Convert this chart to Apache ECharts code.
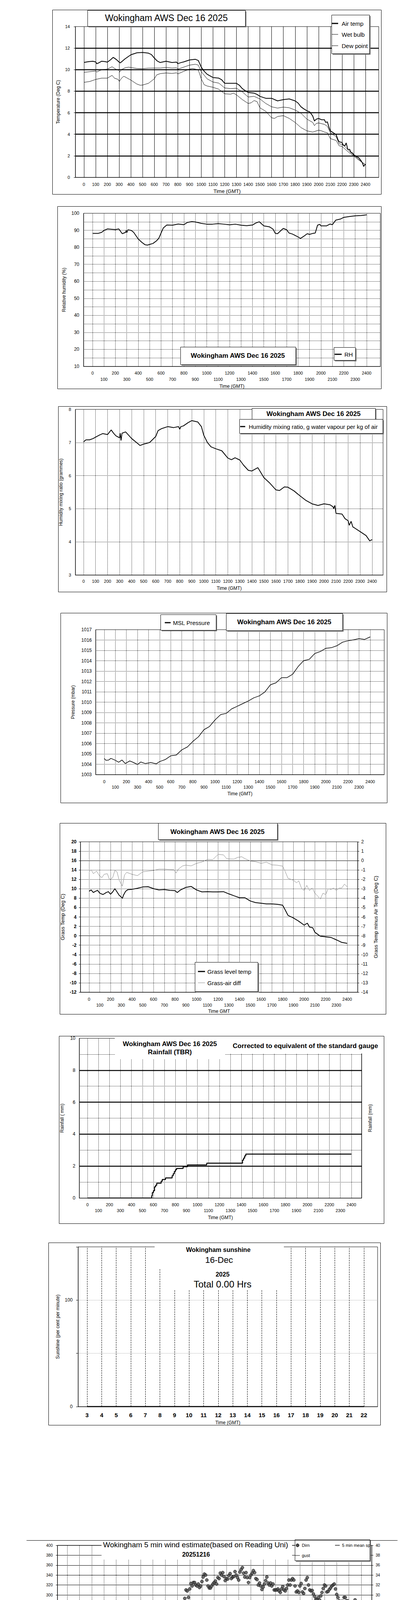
<!DOCTYPE html>
<html><head><meta charset="utf-8">
<script src="https://cdn.jsdelivr.net/npm/echarts@6/dist/echarts.min.js"></script>
<style>html,body{margin:0;padding:0;background:#fff;}#c{width:1050px;height:5085px;}</style>
</head><body><div id="c"></div>
<script>
// ---------- tick labels ----------
const hourTicks = [0,100,200,300,400,500,600,700,800,900,1000,1100,1200,1300,1400,1500,1600,1700,1800,1900,2000,2100,2200,2300,2400];
const evenTicks = [0,200,400,600,800,1000,1200,1400,1600,1800,2000,2200,2400];
const oddTicks = [100,300,500,700,900,1100,1300,1500,1700,1900,2100,2300];
const sunHours = [3,4,5,6,7,8,9,10,11,12,13,14,15,16,17,18,19,20,21,22];

// ---------- chart 1: temperatures [time, degC] ----------
const airTemp = [[0,10.66],[25,10.72],[50,10.75],[75,10.78],[100,10.72],[110,10.55],[125,10.62],[150,10.78],[175,10.75],[200,10.7],[225,10.9],[250,11.14],[275,10.95],[300,10.7],[310,10.63],[350,11.0],[400,11.38],[450,11.56],[500,11.6],[550,11.53],[575,11.4],[600,11.08],[625,10.8],[650,10.66],[700,10.78],[750,10.66],[790,10.7],[800,10.55],[825,10.65],[850,10.72],[900,10.9],[950,10.96],[975,10.85],[1000,10.23],[1025,9.85],[1050,9.57],[1100,9.27],[1150,9.21],[1175,9.05],[1200,8.73],[1250,8.73],[1300,8.73],[1325,8.55],[1350,8.24],[1375,8.05],[1400,7.88],[1450,7.82],[1475,7.7],[1500,7.52],[1550,7.34],[1600,7.34],[1650,7.1],[1700,7.22],[1750,7.28],[1800,7.1],[1825,6.9],[1850,6.55],[1875,6.35],[1900,6.19],[1925,6.07],[1950,5.7],[1965,5.23],[1980,5.4],[2000,5.47],[2025,5.35],[2050,5.35],[2060,5.1],[2075,5.15],[2090,4.6],[2100,4.32],[2125,4.14],[2150,3.96],[2165,3.5],[2175,3.3],[2200,3.24],[2210,3.0],[2225,2.93],[2235,3.2],[2250,2.57],[2265,2.6],[2275,2.33],[2290,2.25],[2300,2.09],[2315,2.0],[2325,1.9],[2340,1.85],[2350,1.72],[2365,1.5],[2375,1.3],[2385,1.0],[2390,1.12],[2400,1.2]];
const wetBulb = [[0,9.75],[50,9.81],[100,9.87],[110,9.78],[150,9.99],[200,10.05],[240,10.27],[270,10.05],[300,9.93],[305,9.78],[320,10.0],[350,10.17],[380,10.23],[400,10.2],[450,10.11],[500,10.09],[550,10.14],[600,10.15],[650,10.15],[700,10.2],[750,10.15],[790,10.17],[800,10.05],[850,10.23],[900,10.42],[950,10.5],[975,10.42],[1000,9.81],[1050,9.15],[1100,8.85],[1150,8.75],[1200,8.3],[1250,8.24],[1300,8.27],[1350,7.94],[1400,7.46],[1450,7.52],[1500,7.28],[1550,6.86],[1600,6.55],[1650,6.43],[1700,6.52],[1750,6.46],[1800,6.25],[1850,5.95],[1900,5.41],[1950,5.1],[1965,4.8],[1980,5.0],[2000,5.05],[2050,4.92],[2075,4.74],[2100,4.14],[2150,3.78],[2175,3.11],[2200,3.06],[2225,2.85],[2250,2.57],[2275,2.3],[2300,2.03],[2325,1.85],[2350,1.6],[2375,1.35],[2400,1.18]];
const dewPoint = [[0,8.82],[50,8.9],[100,9.09],[150,9.21],[200,9.21],[240,9.47],[260,9.21],[290,9.1],[302,8.9],[320,9.2],[340,9.39],[400,9.03],[450,8.67],[480,8.55],[500,8.57],[550,8.73],[600,9.15],[620,9.51],[650,9.63],[700,9.69],[750,9.65],[790,9.7],[800,9.6],[850,9.84],[900,10.05],[925,10.11],[950,10.05],[975,9.96],[1000,9.15],[1025,8.6],[1050,8.48],[1100,8.36],[1150,8.18],[1200,7.76],[1250,7.72],[1275,7.82],[1300,7.66],[1350,7.22],[1400,6.86],[1425,6.92],[1450,7.13],[1475,7.04],[1500,6.46],[1550,6.13],[1600,5.53],[1625,5.47],[1650,5.65],[1700,5.73],[1750,5.47],[1800,5.1],[1850,4.62],[1900,4.32],[1950,4.2],[2000,4.38],[2025,4.32],[2050,4.2],[2075,4.14],[2100,3.6],[2150,3.42],[2175,2.93],[2200,2.87],[2250,2.39],[2300,1.97],[2350,1.55],[2400,1.18]];

// ---------- chart 2: relative humidity [time, %] ----------
const relHum = [[0,88.2],[50,88.2],[80,88.8],[100,89.9],[130,90.8],[200,90.4],[230,90.8],[260,88.0],[290,88.8],[295,90.0],[300,88.6],[310,90.3],[340,89.9],[360,88.8],[400,84.9],[430,83.0],[460,81.5],[480,81.3],[500,81.7],[530,82.3],[560,83.8],[580,85.3],[600,88.4],[620,91.4],[650,93.1],[700,93.0],[750,93.7],[800,93.3],[830,94.6],[870,95.1],[900,94.9],[950,94.1],[1000,93.6],[1050,93.6],[1100,93.9],[1150,93.6],[1200,93.2],[1250,93.6],[1300,93.0],[1350,92.7],[1400,93.1],[1430,94.3],[1460,95.0],[1500,92.6],[1550,92.0],[1580,90.7],[1600,88.2],[1620,88.0],[1650,89.9],[1670,91.1],[1700,90.3],[1720,88.4],[1750,87.8],[1800,86.1],[1820,85.2],[1850,86.5],[1880,88.0],[1900,87.6],[1930,88.2],[1950,88.4],[1970,93.0],[1990,93.5],[2000,92.6],[2050,92.6],[2080,93.7],[2100,93.3],[2130,96.0],[2170,96.6],[2200,97.6],[2250,98.1],[2300,98.5],[2350,98.7],[2400,99.1]];

// ---------- chart 3: mixing ratio [time, g/kg] ----------
const mixRatio = [[0,7.02],[20,7.08],[50,7.08],[80,7.12],[100,7.16],[130,7.22],[160,7.27],[200,7.24],[230,7.38],[250,7.28],[270,7.2],[290,7.16],[300,7.14],[305,7.28],[312,7.06],[320,7.28],[350,7.32],[400,7.12],[450,6.97],[470,6.91],[500,6.95],[550,7.0],[600,7.18],[620,7.36],[650,7.42],[700,7.48],[750,7.45],[790,7.48],[800,7.4],[810,7.48],[830,7.5],[870,7.6],[900,7.66],[950,7.62],[980,7.48],[1000,7.22],[1030,7.0],[1060,6.87],[1100,6.81],[1150,6.75],[1200,6.53],[1230,6.48],[1260,6.54],[1300,6.47],[1330,6.32],[1370,6.16],[1400,6.14],[1450,6.24],[1500,5.94],[1550,5.77],[1600,5.57],[1630,5.55],[1670,5.66],[1700,5.65],[1750,5.54],[1800,5.39],[1850,5.25],[1900,5.15],[1950,5.1],[2000,5.15],[2050,5.12],[2075,5.06],[2080,5.0],[2090,5.1],[2100,4.86],[2150,4.84],[2175,4.7],[2200,4.64],[2210,4.5],[2225,4.62],[2240,4.45],[2250,4.43],[2300,4.31],[2350,4.19],[2380,4.03],[2400,4.07]];

// ---------- chart 4: MSL pressure [time, mbar] ----------
const mslPressure = [[0,1004.57],[15,1004.38],[40,1004.41],[60,1004.57],[100,1004.38],[130,1004.19],[160,1004.41],[190,1004.07],[230,1004.32],[260,1004.19],[300,1003.98],[330,1004.22],[370,1004.07],[420,1004.17],[470,1004.04],[500,1004.26],[550,1004.45],[600,1004.82],[650,1004.89],[700,1005.39],[750,1005.67],[800,1006.21],[850,1006.65],[900,1007.34],[950,1007.65],[1000,1008.28],[1050,1008.79],[1100,1008.91],[1150,1009.35],[1200,1009.6],[1250,1009.86],[1300,1010.11],[1350,1010.42],[1400,1010.61],[1450,1010.99],[1500,1011.68],[1550,1011.87],[1600,1012.37],[1650,1012.37],[1700,1012.69],[1750,1013.44],[1800,1014.01],[1850,1014.13],[1900,1014.7],[1950,1014.89],[2000,1015.2],[2050,1015.26],[2100,1015.45],[2150,1015.79],[2200,1015.93],[2250,1016.02],[2300,1016.14],[2350,1016.06],[2400,1016.3]];

// ---------- chart 5: grass temperature [time, degC] ----------
const grassTemp = [[0,9.47],[20,9.75],[40,9.2],[60,9.47],[80,9.67],[100,9.06],[130,8.78],[160,9.2],[180,9.39],[200,8.84],[220,9.34],[240,10.03],[260,9.34],[280,8.64],[300,8.23],[310,7.95],[320,8.64],[340,9.47],[360,9.81],[400,9.89],[450,10.11],[500,10.39],[550,10.44],[600,10.03],[650,9.75],[700,9.83],[750,9.67],[800,9.61],[820,9.2],[850,9.75],[900,10.3],[950,10.5],[1000,9.75],[1050,9.34],[1100,9.39],[1150,9.34],[1200,9.34],[1250,9.39],[1300,8.92],[1350,8.5],[1400,8.09],[1450,8.09],[1500,7.4],[1550,7.06],[1600,6.93],[1650,6.79],[1700,6.79],[1750,6.7],[1800,6.51],[1825,5.46],[1850,4.35],[1900,3.8],[1950,3.1],[2000,2.27],[2030,2.69],[2050,1.86],[2080,1.72],[2100,0.75],[2150,-0.08],[2200,-0.22],[2250,-0.36],[2300,-0.86],[2350,-1.41],[2400,-1.61]];
const grassAirDiff = [[0,-1.19],[20,-0.98],[40,-1.39],[70,-1.12],[100,-1.67],[120,-1.81],[140,-1.46],[170,-1.39],[190,-2.02],[220,-1.81],[240,-1.05],[260,-1.19],[280,-2.09],[300,-2.5],[310,-2.71],[330,-1.53],[350,-1.25],[400,-1.46],[450,-1.6],[500,-1.19],[550,-1.12],[600,-1.05],[650,-0.91],[700,-0.91],[750,-0.95],[790,-0.98],[810,-1.32],[830,-0.91],[870,-0.56],[900,-0.49],[950,-0.56],[1000,-0.29],[1050,-0.15],[1100,0.13],[1150,0.1],[1200,0.66],[1250,0.61],[1280,0.2],[1300,0.17],[1350,0.16],[1380,0.34],[1420,0.41],[1450,0.2],[1500,-0.04],[1550,-0.12],[1600,-0.29],[1650,-0.17],[1700,-0.45],[1750,-0.49],[1800,-0.59],[1825,-1.19],[1850,-1.88],[1900,-2.09],[1930,-2.36],[1950,-2.16],[1975,-2.92],[2000,-3.19],[2025,-2.64],[2050,-3.19],[2075,-2.92],[2100,-3.47],[2125,-3.75],[2150,-4.09],[2175,-3.47],[2200,-3.61],[2225,-2.99],[2250,-3.06],[2275,-2.92],[2300,-3.19],[2325,-2.92],[2350,-2.92],[2375,-2.5],[2400,-2.78]];

// ---------- chart 6: cumulative rainfall [time, mm] ----------
const rainfall = [[0,0],[580,0],[585,0.15],[590,0.34],[600,0.46],[610,0.7],[620,0.8],[630,0.93],[670,1.05],[680,1.16],[710,1.26],[770,1.4],[780,1.52],[790,1.66],[800,1.77],[810,1.85],[870,1.96],[910,2.07],[1085,2.18],[1410,2.38],[1420,2.5],[1430,2.64],[1440,2.75],[2400,2.75]];

// ---------- chart 7: sunshine (% per minute) at each hour ----------
const sunshinePct = [0,0,0,0,0,0,0,0,0,0,0,0,0,0,0,0,0,0,0,0];

// ---------- chart 8: wind, one value every 10 time units (0..2400) ----------
const windDirn = [137,136,134,130,138,141,133,130,134,132, 128,126,130,135,130,120,118,119,110,104, 108,112,118,119,117,125,130,133,130,125, 122,126,133,134,125,122,131,139,136,138, 156,165,162,174,180,174,167,158,152,160, 163,171,180,183,182,176,170,155,148,150, 131,120,120,126,135,140,130,151,165,158, 141,152,156,162,150,130,125,144,167,174, 181,177,172,163,166,155,166,151,150,134, 158,178,227,264,277,285,293,310,308,295, 312,323,318,325,325,320,318,322,315,318, 327,336,342,340,330,318,314,314,318,322, 325,328,322,335,333,344,340,345,337,329, 333,332,339,343,333,336,337,347,340,335, 330,346,351,355,344,336,345,335,325,335, 340,344,349,345,333,331,320,324,318,311, 316,322,329,336,324,320,324,318,322,310, 310,310,312,308,305,312,317,310,308,313, 320,330,320,330,333,330,318,306,308,305, 318,323,306,303,313,330,335,320,310,308, 309,302,297,291,291,295,290,298,305,313, 320,318,306,307,311,314,318,320,322,312, 301,295,288,285,287,287,295,295,288,288, 285,275,275,278,271,290,282,278,270,274, 280];
const windGust = [4.2,4.2,5.0,4.5,2.8,4.8,3.8,4.2,4.8,4.5, 4.5,4.8,4.0,5.2,5.5,4.5,4.8,5.0,4.5,5.5, 4.2,4.8,5.2,4.5,5.8,6.0,5.0,4.2,5.5,4.5, 4.0,4.5,6.0,5.5,6.2,5.0,7.0,8.0,7.5,8.2, 6.5,11.0,9.2,7.8,8.5,7.2,8.0,8.8,8.5,5.0, 8.0,7.0,4.2,5.5,4.5,5.0,4.0,4.5,3.8,4.2, 2.8,4.0,3.5,4.2,3.8,5.5,4.0,4.8,3.0,4.2, 3.5,5.5,4.0,5.0,3.0,4.5,3.8,5.0,7.0,5.5, 4.5,4.0,5.0,3.8,4.2,5.5,3.5,4.0,4.2,5.8, 4.8,8.5,7.5,9.5,7.8,8.2,8.8,7.0,7.8,6.5, 9.0,7.5,9.5,10.0,10.5,11.2,8.0,8.5,7.2,6.8, 8.0,9.5,11.0,8.8,10.0,8.5,10.5,9.5,10.8,8.2, 9.8,9.0,8.5,10.0,8.0,13.2,8.5,10.0,9.2,10.5, 9.0,9.5,8.5,9.8,7.5,9.2,8.0,10.0,8.5,10.8, 7.5,10.5,8.0,11.2,7.0,9.8,8.8,6.5,9.0,7.2, 9.5,6.0,8.8,5.5,8.5,6.0,7.5,4.5,7.2,5.5, 6.8,5.0,7.2,5.8,6.5,4.8,7.0,5.5,7.2,4.5, 8.0,8.5,7.8,8.5,7.2,9.2,6.5,8.2,6.2,8.8, 7.0,8.0,3.5,4.5,4.0,4.2,3.8,4.5,3.8,5.0, 4.0,3.5,4.5,4.8,3.8,4.2,5.5,4.5,3.8,4.2, 6.0,4.0,3.5,4.5,3.8,4.2,4.0,4.5,3.0,5.0, 6.0,4.5,3.8,4.2,3.5,4.5,4.0,3.8,4.0,3.5, 5.0,3.8,4.5,4.0,3.5,3.0,2.5,2.0,2.2,1.5, 1.2,2.0,1.5,1.8,1.0,1.8,1.5,2.5,3.2,3.8, 4.0];
const windMean = [2.0,2.0,2.5,2.8,2.2,2.0,2.5,3.0,2.7,2.5, 2.8,3.0,2.8,2.5,2.3,2.7,3.0,3.0,3.2,3.7, 3.8,3.8,4.0,4.0,3.8,3.5,3.3,3.0,3.0,3.0, 3.0,3.0,3.2,3.5,3.7,3.8,4.0,4.2,4.0,4.2, 4.0,4.5,5.8,5.0,4.5,4.0,4.2,3.5,3.0,4.0, 5.2,4.5,4.0,3.8,3.0,2.5,2.0,2.2,2.2,1.8, 2.0,1.8,2.0,1.5,2.0,1.8,1.5,2.0,2.2,1.8, 1.5,1.8,2.2,2.0,2.0,1.8,2.2,2.8,3.3,3.5, 2.5,2.2,2.8,2.2,2.0,2.2,1.8,2.0,1.8,1.5, 2.0,3.5,4.5,5.5,6.0,5.5,5.0,4.5,4.8,5.2, 4.2,5.5,5.0,5.5,4.8,6.2,5.0,5.2,4.5,5.0, 4.8,5.5,6.5,6.2,5.5,5.8,5.0,4.8,5.8,5.5, 5.0,5.8,5.2,5.5,4.8,4.5,5.5,6.0,5.5,5.2, 5.5,5.0,5.2,4.8,5.0,4.8,4.5,5.0,4.5,4.2, 4.5,5.2,5.0,6.0,4.8,4.2,4.8,3.8,4.5,4.0, 4.8,4.2,5.5,4.5,4.0,3.5,4.0,3.0,3.5,3.8, 3.5,3.8,3.5,3.6,3.2,3.6,3.5,3.6,3.2,3.0, 3.8,4.5,4.8,4.2,5.0,5.5,5.8,4.8,4.5,3.5, 4.0,4.8,3.0,2.5,2.2,2.0,2.2,2.5,2.2,2.5, 2.8,2.5,2.2,1.8,2.2,2.5,2.2,2.5,2.8,2.5, 3.2,2.8,2.2,2.0,2.5,2.2,2.0,2.2,2.0,1.5, 2.5,2.2,2.5,2.2,2.5,2.8,2.5,2.2,2.8,3.0, 2.8,2.8,2.5,2.5,2.2,2.2,2.0,1.5,1.2,0.8, 0.5,0.5,0.8,1.2,1.0,0.8,1.2,1.5,2.2,2.8, 3.0];

// ================= build =================
const FONT = '"Liberation Sans", Arial, Helvetica, sans-serif';
const plain = v => String(v);
const option = {
  animation: false, backgroundColor: '#fff',
  textStyle: { fontFamily: FONT, color: '#000' },
  grid: [], xAxis: [], yAxis: [], series: [], graphic: []
};
const G = option.graphic;
function fnt(size, bold) { return (bold ? 'bold ' : '') + size + 'px ' + FONT; }
function frame(x1, y1, x2, y2) {
  G.push({ type: 'rect', z: 1, silent: true, shape: { x: x1 + 0.5, y: y1 + 0.5, width: x2 - x1, height: y2 - y1 }, style: { fill: 'none', stroke: '#000', lineWidth: 1 } });
}
function box(x1, y1, x2, y2) {
  G.push({ type: 'rect', z: 50, silent: true, shape: { x: x1 + 3, y: y1 + 3, width: x2 - x1, height: y2 - y1 }, style: { fill: '#7a7a7a' } });
  G.push({ type: 'rect', z: 51, silent: true, shape: { x: x1 + 0.5, y: y1 + 0.5, width: x2 - x1, height: y2 - y1 }, style: { fill: '#fff', stroke: '#000', lineWidth: 1 } });
}
function whiteRect(x1, y1, x2, y2) {
  G.push({ type: 'rect', z: 49, silent: true, shape: { x: x1, y: y1, width: x2 - x1, height: y2 - y1 }, style: { fill: '#fff' } });
}
function txt(s, x, y, size, bold, align) {
  G.push({ type: 'text', z: 60, silent: true, style: { text: s, x: x, y: y, font: fnt(size, bold), fill: '#000', textAlign: align || 'center', textVerticalAlign: 'middle' } });
}
function hline(x1, x2, y, w, color) {
  G.push({ type: 'line', z: 60, silent: true, shape: { x1: x1, y1: y, x2: x2, y2: y }, style: { stroke: color || '#000', lineWidth: w } });
}
function addGrid(l, t, r, b) {
  option.grid.push({ left: l, top: t, width: r - l, height: b - t, show: true, borderColor: '#000', borderWidth: 1, backgroundColor: 'rgba(0,0,0,0)' });
  return option.grid.length - 1;
}
function addX(gi, min, max, labels, margin, size, extra) {
  const ax = Object.assign({
    type: 'value', gridIndex: gi, min: min, max: max, position: 'bottom',
    splitLine: { show: false }, axisTick: { show: false },
    axisLine: { show: true, onZero: false, lineStyle: { color: '#000', width: 1 } },
    axisLabel: { customValues: labels, margin: margin, fontSize: size, color: '#000', fontFamily: FONT, formatter: plain },
    nameTextStyle: { color: '#000', fontSize: 12, fontFamily: FONT }
  }, extra || {});
  option.xAxis.push(ax); return option.xAxis.length - 1;
}
function addY(gi, cfg) {
  const ax = Object.assign({
    type: 'value', gridIndex: gi, position: 'left',
    axisLine: { show: true, onZero: false, lineStyle: { color: '#000', width: 1 } },
    axisTick: { show: true, inside: false, length: 4, lineStyle: { color: '#000' } },
    splitLine: { show: false },
    nameLocation: 'middle', nameRotate: 90,
    nameTextStyle: { color: '#000', fontSize: 12, fontFamily: FONT }
  }, cfg);
  if (ax.axisLabel && !ax.axisLabel.formatter) ax.axisLabel.formatter = plain;
  option.yAxis.push(ax); return option.yAxis.length - 1;
}
function dotted() { return { show: true, showMinLine: false, showMaxLine: false, lineStyle: { type: 'dotted', color: '#000', width: 1 } }; }
function lineS(xi, yi, data, color, width, extra) {
  option.series.push(Object.assign({ type: 'line', xAxisIndex: xi, yAxisIndex: yi, data: data, showSymbol: false, symbol: 'none', silent: true, z: 5, lineStyle: { color: color, width: width }, itemStyle: { color: color } }, extra || {}));
}
function marks(xi, yi, key, vals, style) {
  option.series.push({ type: 'line', xAxisIndex: xi, yAxisIndex: yi, data: [], silent: true, z: 3,
    markLine: { silent: true, animation: false, symbol: ['none', 'none'], label: { show: false }, emphasis: { disabled: true }, lineStyle: style, data: vals.map(v => ({ [key]: v })) } });
}
const title = 'Wokingham AWS Dec 16 2025';

// ---------- Chart 1 ----------
frame(134, 25, 976, 497);
let g = addGrid(193, 68, 970, 454);
let xa = addX(g, -73, 2513, hourTicks, 12, 11, { name: 'Time (GMT)', nameLocation: 'middle', nameGap: 29, nameTextStyle: { fontSize: 13, color: '#000' } });
let ya = addY(g, { min: 0, max: 14, interval: 2, axisLabel: { fontSize: 11, margin: 14, color: '#000' }, name: 'Temperature (Deg C)', nameGap: 38 });
marks(xa, ya, 'xAxis', hourTicks, { type: 'solid', color: '#000', width: 1 });
marks(xa, ya, 'yAxis', [2, 4, 6, 8, 10, 12], { type: 'solid', color: '#000', width: 2.5 });
lineS(xa, ya, dewPoint, '#000', 1);
lineS(xa, ya, wetBulb, '#000', 1);
lineS(xa, ya, airTemp, '#000', 2);
box(224, 26, 628, 67); txt(title, 426, 46, 23, false);
box(849, 38, 946, 137);
hline(849, 866, 60, 3); txt('Air temp', 875, 60, 15, false, 'left');
hline(849, 866, 88, 1); txt('Wet bulb', 875, 88, 15, false, 'left');
hline(849, 866, 117, 1); txt('Dew point', 875, 117, 15, false, 'left');

// ---------- Chart 2 ----------
frame(147, 528, 976, 995);
g = addGrid(214, 546, 974, 938);
xa = addX(g, -78.6, 2519.7, evenTicks, 11.5, 11, { name: 'Time (GMT)', nameLocation: 'middle', nameGap: 45 });
addX(g, -78.6, 2519.7, oddTicks, 27.5, 11, { axisLine: { show: false } });
ya = addY(g, { min: 10, max: 100, interval: 5, axisTick: { show: false }, axisLabel: { fontSize: 12, margin: 11, color: '#000', formatter: v => (v % 10 === 0 ? String(v) : '') }, splitLine: dotted(), name: 'Relative humidity (%)', nameGap: 44 });
marks(xa, ya, 'xAxis', hourTicks, { type: 'dotted', color: '#000', width: 1 });
lineS(xa, ya, relHum, '#000', 2);
box(462, 888, 757, 933); txt(title, 609, 910, 17, true);
box(855, 889, 910, 922); hline(857, 875, 907, 3); txt('RH', 882, 907, 15, false, 'left');

// ---------- Chart 3 ----------
frame(149, 1040, 990, 1515);
g = addGrid(193, 1048, 981, 1472);
xa = addX(g, -68, 2491, hourTicks, 10.5, 11, { name: 'Time (GMT)', nameLocation: 'middle', nameGap: 28 });
ya = addY(g, { min: 3, max: 8, interval: 1, axisTick: { show: false }, axisLabel: { fontSize: 11, margin: 11, color: '#000' }, splitLine: dotted(), name: 'Humidity mixing ratio (grammes)', nameGap: 31 });
marks(xa, ya, 'xAxis', hourTicks, { type: 'dotted', color: '#000', width: 1 });
lineS(xa, ya, mixRatio, '#000', 2);
box(645, 1045, 961, 1073); txt(title, 803, 1059, 17, true);
box(613, 1073, 980, 1109); hline(615, 628, 1092, 3); txt('Humidity mixing ratio, g water vapour per kg of air', 637, 1092, 15, false, 'left');

// ---------- Chart 4 ----------
frame(155, 1569, 991, 2055);
g = addGrid(245, 1612, 984, 1983);
xa = addX(g, -77.5, 2527, evenTicks, 12.5, 11, { name: 'Time (GMT)', nameLocation: 'middle', nameGap: 43 });
addX(g, -77.5, 2527, oddTicks, 26.5, 11, { axisLine: { show: false } });
ya = addY(g, { min: 1003, max: 1017, interval: 1, axisTick: { show: false }, axisLabel: { fontSize: 12, margin: 10, color: '#000' }, splitLine: dotted(), name: 'Pressure (mbar)', nameGap: 52 });
marks(xa, ya, 'xAxis', hourTicks, { type: 'dotted', color: '#000', width: 1 });
lineS(xa, ya, mslPressure, '#000', 1.5);
box(411, 1573, 553, 1613); hline(422, 437, 1594, 3); txt('MSL Pressure', 443, 1594, 15, false, 'left');
box(579, 1570, 877, 1614); txt(title, 728, 1592, 17, true);

// ---------- Chart 5 ----------
frame(153, 2107, 988, 2596);
g = addGrid(206, 2155, 916, 2540);
xa = addX(g, -80, 2498, evenTicks, 12.5, 11, { name: 'Time GMT', nameLocation: 'middle', nameGap: 43 });
addX(g, -80, 2498, oddTicks, 27.5, 11, { axisLine: { show: false } });
ya = addY(g, { min: -12, max: 20, interval: 2, axisLabel: { fontSize: 12, fontWeight: 'bold', margin: 10, color: '#000' }, splitLine: dotted(), name: 'Grass Temp (Deg C)', nameGap: 39, nameTextStyle: { fontSize: 13, color: '#000' } });
let yb = addY(g, { min: -14, max: 2, interval: 1, position: 'right', axisLabel: { fontSize: 12, margin: 9, color: '#000' }, name: 'Grass Temp minus Air Temp (Deg C)', nameGap: 40, nameTextStyle: { fontSize: 13, color: '#000' } });
marks(xa, ya, 'xAxis', hourTicks, { type: 'dotted', color: '#000', width: 1 });
marks(xa, ya, 'yAxis', [0, 16], { type: 'solid', color: '#000', width: 1 });
lineS(xa, yb, grassAirDiff, '#858585', 1);
lineS(xa, ya, grassTemp, '#000', 2);
box(405, 2107, 710, 2149); txt(title, 557, 2129, 17, true);
box(499, 2463, 660, 2538);
hline(507, 525, 2487, 3); txt('Grass level temp', 531, 2487, 15, false, 'left');
hline(507, 525, 2516, 1, '#858585'); txt('Grass-air diff', 531, 2516, 15, false, 'left');

// ---------- Chart 6 ----------
frame(151, 2652, 983, 3132);
g = addGrid(203, 2658, 926, 3067);
xa = addX(g, -74.6, 2493, evenTicks, 11.5, 11, { name: 'Time (GMT)', nameLocation: 'middle', nameGap: 44 });
addX(g, -74.6, 2493, oddTicks, 26.5, 11, { axisLine: { show: false } });
ya = addY(g, { min: 0, max: 10, interval: 1, axisTick: { show: false }, axisLabel: { fontSize: 12, margin: 10, color: '#000', formatter: v => (v % 2 === 0 ? String(v) : '') }, splitLine: dotted(), name: 'Rainfall ( mm)', nameGap: 38 });
addY(g, { min: 0, max: 10, interval: 1, position: 'right', axisTick: { show: false }, axisLabel: { show: false }, name: 'Rainfall (mm)', nameGap: 16 });
marks(xa, ya, 'xAxis', hourTicks, { type: 'dotted', color: '#000', width: 1 });
marks(xa, ya, 'yAxis', [2, 4, 6, 8], { type: 'solid', color: '#000', width: 2.5 });
lineS(xa, ya, rainfall, '#000', 2.5, { step: 'end' });
whiteRect(294, 2655, 577, 2712); whiteRect(577, 2655, 930, 2697);
txt(title, 435, 2672, 17, true); txt('Rainfall (TBR)', 435, 2693, 17, true);
txt('Corrected to equivalent of the standard gauge', 596, 2677, 17, true, 'left');

// ---------- Chart 7 ----------
frame(124, 3181, 974, 3648);
g = addGrid(200, 3192, 967, 3601);
xa = addX(g, 2.384, 22.94, sunHours, 13.5, 15, { name: 'Time (GMT)', nameLocation: 'middle', nameGap: 35 });
option.xAxis[xa].axisLabel.fontWeight = 'bold';
ya = addY(g, { min: 0, max: 150, interval: 50, axisTick: { show: true, length: 5, lineStyle: { color: '#000' } }, axisLabel: { fontSize: 12, margin: 14, color: '#000', formatter: v => (v === 0 || v === 100 ? String(v) : '') }, splitLine: { show: true, showMinLine: false, showMaxLine: false, lineStyle: { type: 'dotted', color: '#9a9a9a', width: 1 } }, name: 'Sunshine (per cent per minute)', nameGap: 46 });
marks(xa, ya, 'xAxis', sunHours, { type: 'dashed', color: '#000', width: 1 });
lineS(xa, ya, sunHours.map((h, i) => [h, sunshinePct[i]]), '#000', 3);
whiteRect(396, 3187, 727, 3247); whiteRect(423, 3247, 723, 3303);
txt('Wokingham sunshine', 559, 3199, 16, true);
txt('16-Dec', 561, 3225, 22, false);
txt('2025', 570, 3262, 16, true);
txt('Total 0.00 Hrs', 570, 3287, 24, false);

// ---------- Chart 8 ----------
hline(68, 1018, 3943.5, 1); hline(68, 1018, 4527.5, 1);
g = addGrid(147, 3956, 952, 4464);
xa = addX(g, -79.7, 2486, hourTicks, 12, 10, { name: 'Time, hours GMT', nameLocation: 'middle', nameGap: 30, nameTextStyle: { fontSize: 15, color: '#000' } });
ya = addY(g, { min: 0, max: 400, interval: 20, axisLabel: { fontSize: 10, margin: 12, color: '#000' }, splitLine: { show: true, lineStyle: { type: 'solid', color: '#000', width: 1 } }, name: 'Degrees', nameGap: 43, nameTextStyle: { fontSize: 16, color: '#000' } });
yb = addY(g, { min: 0, max: 40, interval: 2, position: 'right', axisLabel: { fontSize: 10, margin: 10, color: '#000' }, name: 'knots', nameGap: 36, nameTextStyle: { fontSize: 16, color: '#000' } });
marks(xa, ya, 'xAxis', hourTicks, { type: 'dotted', color: '#000', width: 1 });
lineS(xa, yb, windGust.map((v, i) => [i * 10, v]), '#000', 1);
lineS(xa, yb, windMean.map((v, i) => [i * 10, v]), '#6b6b6b', 2.5);
option.series.push({ type: 'scatter', xAxisIndex: xa, yAxisIndex: ya, silent: true, z: 6, symbol: 'circle', symbolSize: 8,
  itemStyle: { color: '#4a4a4a', borderColor: '#000', borderWidth: 1 }, data: windDirn.map((v, i) => [i * 10, v]) });
whiteRect(260, 3945, 748, 3993);
txt('Wokingham 5 min wind estimate(based on Reading Uni)', 501, 3954, 19, false);
txt('20251216', 502, 3979, 16, true);
box(755, 3941, 947, 3995);
G.push({ type: 'circle', z: 60, silent: true, shape: { cx: 762, cy: 3956, r: 4 }, style: { fill: '#4a4a4a', stroke: '#000', lineWidth: 1 } });
txt('Dirn', 773, 3956, 11, false, 'left');
hline(756, 768, 3982, 1); txt('gust', 773, 3982, 11, false, 'left');
hline(858, 870, 3956, 2.5, '#6b6b6b'); txt('5 min mean sp', 876, 3956, 11, false, 'left');

const chart = echarts.init(document.getElementById('c'), null, { renderer: 'svg', width: 1050, height: 5085 });
chart.setOption(option);
</script></body></html>
